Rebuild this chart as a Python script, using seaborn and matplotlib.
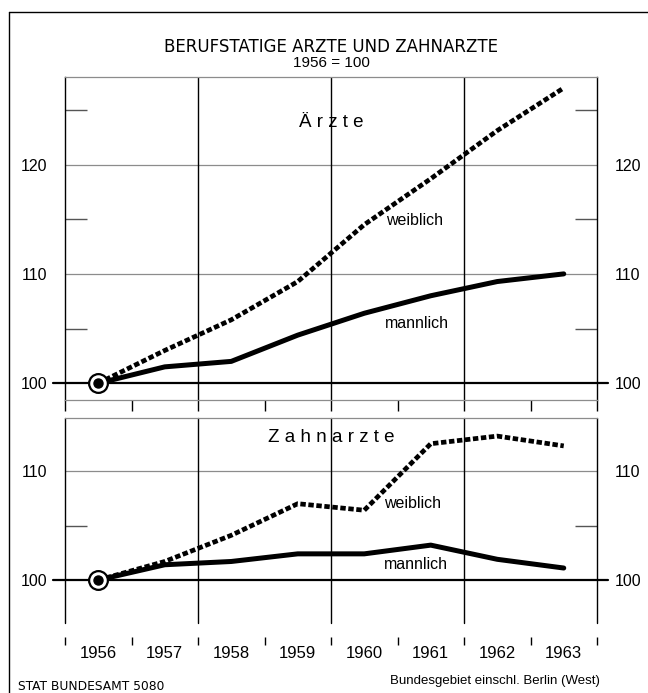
import numpy as np
import pandas as pd
import matplotlib
matplotlib.use("Agg")
import matplotlib.pyplot as plt
from matplotlib.lines import Line2D
import seaborn as sns

# Messzahlen, 1956 = 100
jahre = [1956, 1957, 1958, 1959, 1960, 1961, 1962, 1963]
aerzte_weiblich = [100, 103.0, 105.8, 109.3, 114.5, 118.7, 123.1, 127.0]
aerzte_maennlich = [100, 101.5, 102.0, 104.4, 106.4, 108.0, 109.3, 110.0]
zahn_weiblich = [100, 101.7, 104.1, 107.0, 106.4, 112.5, 113.2, 112.3]
zahn_maennlich = [100, 101.4, 101.7, 102.4, 102.4, 103.2, 101.9, 101.1]

yticks_oben = [100, 110, 120]
yminor_oben = [105, 115, 125]
yticks_unten = [100, 110]
yminor_unten = [105]

SCHMAL = 'Liberation Sans'
GRAU = '#8c8c8c'


def zeichne_panel(ax, weiblich, maennlich, yticks, yminor):
    pos = np.arange(len(jahre))
    df = pd.DataFrame({"pos": pos, "weiblich": weiblich, "maennlich": maennlich})

    # Linien
    sns.lineplot(data=df, x="pos", y="maennlich", ax=ax, color="black", lw=3.6,
                 solid_capstyle="round", zorder=3)
    sns.lineplot(data=df, x="pos", y="weiblich", ax=ax, color="black", lw=3.4,
                 linestyle=(0, (1.15, 0.55)), dash_capstyle="butt", zorder=3)
    # Ausgangspunkt 1956
    ax.plot(pos[0], weiblich[0], 'o', ms=13.5, mfc='white', mec='black', mew=1.6, zorder=5)
    ax.plot(pos[0], weiblich[0], 'o', ms=6.5, color='black', zorder=6)

    ax.set_xlim(-0.5, len(jahre) - 0.5)
    ax.set_xlabel("")
    ax.set_ylabel("")

    # Gitter
    for v in yticks[1:]:
        ax.axhline(v, color=GRAU, lw=0.9, zorder=1)
    ax.axhline(100, xmin=-0.023, xmax=1.021, color='black', lw=1.6, clip_on=False, zorder=2)

    ax.set_yticks(yticks)
    ax.set_yticklabels([str(v) for v in yticks], family=SCHMAL, fontsize=11.5)
    ax.set_yticks(yminor, minor=True)
    ax.tick_params(axis='y', which='major', length=0, pad=13, labelcolor='black',
                   labelleft=True, labelright=True, left=False, right=False)
    ax.tick_params(axis='y', which='minor', direction='in', length=16, width=1.0,
                   left=True, right=True, color='#555555')


def plot_chart():
    sns.set_style("white")
    plt.rcParams['text.color'] = 'black'
    fig = plt.figure(figsize=(6.48, 6.93), dpi=100)

    # oberes Panel: Aerzte
    ax1 = fig.add_axes([65 / 648, 1 - 400 / 693, 532 / 648, 323 / 693])
    zeichne_panel(ax1, aerzte_weiblich, aerzte_maennlich, yticks_oben, yminor_oben)
    ax1.set_ylim(98.47, 128.0)
    for b in [1.5, 3.5, 5.5]:
        ax1.axvline(b, color='black', lw=1.0, zorder=1)
    ax1.set_xticks(np.arange(-0.5, len(jahre), 1))
    ax1.tick_params(axis='x', which='major', direction='out', length=8, width=1.0,
                    labelbottom=False, bottom=True, color='black')
    for s in ['left', 'right']:
        ax1.spines[s].set_color('black')
        ax1.spines[s].set_linewidth(1.0)
    for s in ['top', 'bottom']:
        ax1.spines[s].set_color(GRAU)
        ax1.spines[s].set_linewidth(0.9)
    ax1.text(3.5, 123.8, "Ä r z t e", ha='center', va='center', family=SCHMAL, fontsize=13.5)
    ax1.text(4.76, 114.9, "weiblich", ha='center', va='center', family=SCHMAL, fontsize=11.5)
    ax1.text(4.79, 105.5, "mannlich", ha='center', va='center', family=SCHMAL, fontsize=11.5)

    # unteres Panel: Zahnaerzte
    ax2 = fig.add_axes([65 / 648, 1 - 645 / 693, 532 / 648, 227 / 693])
    zeichne_panel(ax2, zahn_weiblich, zahn_maennlich, yticks_unten, yminor_unten)
    ymin, ymax = 94.04, 114.86
    ax2.set_ylim(ymin, ymax)
    frac = (96.06 - ymin) / (ymax - ymin)
    for b in [-0.5, 1.5, 3.5, 5.5, len(jahre) - 0.5]:
        ax2.axvline(b, ymin=frac, ymax=1, color='black', lw=1.0, clip_on=False, zorder=1)
    for s in ['left', 'right', 'bottom']:
        ax2.spines[s].set_visible(False)
    ax2.spines['top'].set_color(GRAU)
    ax2.spines['top'].set_linewidth(0.9)
    ax2.set_xticks(np.arange(-0.5, len(jahre), 1))
    ax2.set_xticklabels([])
    ax2.set_xticks(np.arange(len(jahre)), minor=True)
    ax2.set_xticklabels([str(j) for j in jahre], minor=True, family=SCHMAL, fontsize=12)
    ax2.tick_params(axis='x', which='major', direction='in', length=5.5, width=1.0,
                    bottom=True, color='black')
    ax2.tick_params(axis='x', which='minor', length=0, pad=1, labelcolor='black')
    ax2.text(3.5, 113.1, "Z a h n a r z t e", ha='center', va='center', family=SCHMAL, fontsize=13.5)
    ax2.text(4.73, 107.0, "weiblich", ha='center', va='center', family=SCHMAL, fontsize=11.5)
    ax2.text(4.78, 101.4, "mannlich", ha='center', va='center', family=SCHMAL, fontsize=11.5)

    # Titel
    fig.text(331 / 648, 1 - 47 / 693, "BERUFSTATIGE ARZTE UND ZAHNARZTE", ha='center', va='center',
             family='DejaVu Sans', fontsize=12)
    fig.text(331 / 648, 1 - 63 / 693, "1956 = 100", ha='center', va='center',
             family=SCHMAL, fontsize=11)

    # Fusszeile
    fig.text(18 / 648, 1 - 687 / 693, "STAT BUNDESAMT 5080", ha='left', va='center',
             family='DejaVu Sans', fontsize=8.8)
    fig.text(600 / 648, 1 - 681 / 693, "Bundesgebiet einschl. Berlin (West)", ha='right', va='center',
             family=SCHMAL, fontsize=9.5)

    # Rahmen
    fig.add_artist(Line2D([9 / 648, 9 / 648], [0, 1 - 12 / 693], color='black', lw=1.0))
    fig.add_artist(Line2D([9 / 648, 1], [1 - 12 / 693, 1 - 12 / 693], color='black', lw=1.0))

    fig.savefig("out.png", dpi=100)


if __name__ == "__main__":
    plot_chart()
